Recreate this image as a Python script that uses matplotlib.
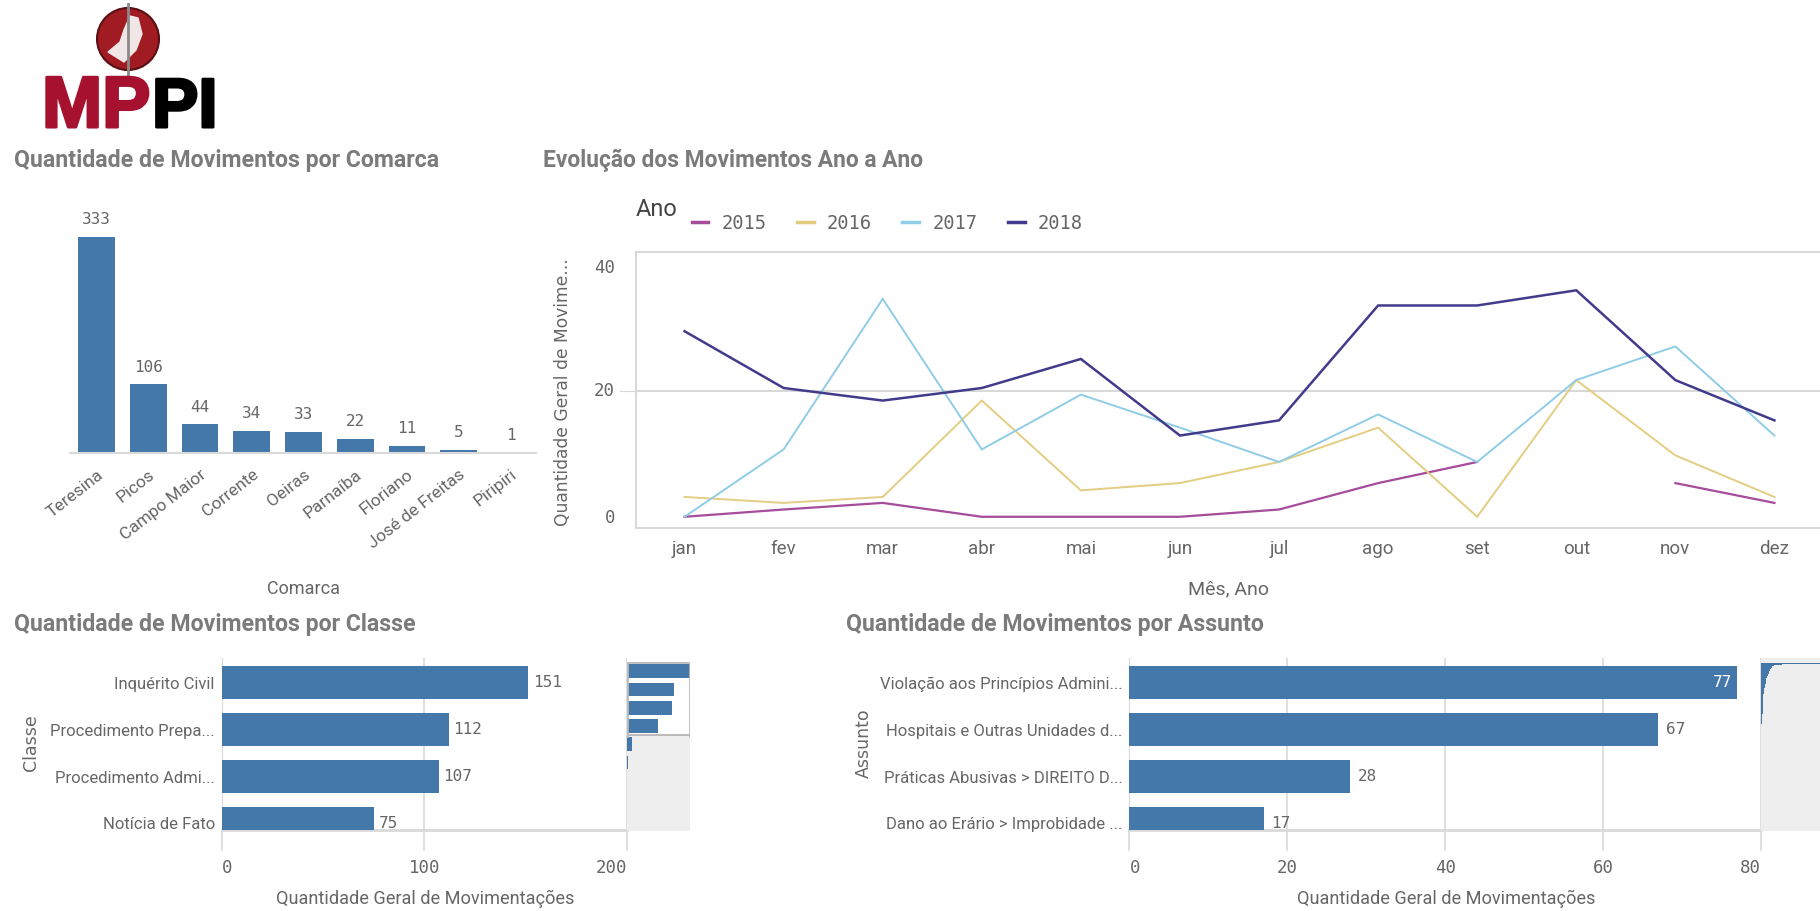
#!/usr/bin/env python
# -*- coding: utf-8 -*-

import numpy as np
import matplotlib
matplotlib.use('Agg')
import matplotlib.pyplot as plt
import matplotlib.patheffects as pe
from matplotlib.patches import Circle, Polygon

W, H = 1820, 911
BLUE = '#4477aa'
GRID = '#d9d9d9'
TXT = '#666666'
TITLE = '#7b7b7b'
MONO = 'DejaVu Sans Mono'
NARROW = 'Roboto'

# dados
comarcas = ['Teresina', 'Picos', 'Campo Maior', 'Corrente', 'Oeiras', 'Parnaíba',
            'Floriano', 'José de Freitas', 'Piripiri']
comarca_vals = [333, 106, 44, 34, 33, 22, 11, 5, 1]

meses = ['jan', 'fev', 'mar', 'abr', 'mai', 'jun', 'jul', 'ago', 'set', 'out', 'nov', 'dez']
y2015 = [1, 2.1, 3.1, 1, 1, 1, 2.1, 6.1, 9.3, np.nan, 6.1, 3.1]
y2016 = [4, 3.1, 4, 18.6, 5, 6.1, 9.3, 14.5, 1, 21.7, 10.3, 4]
y2017 = [1, 11.2, 34, 11.2, 19.5, 14.5, 9.3, 16.5, 9.3, 21.7, 26.8, 13.3]
y2018 = [29.1, 20.5, 18.6, 20.5, 24.9, 13.3, 15.6, 33, 33, 35.3, 21.7, 15.6]
cores_ano = ['#a54c9a', '#e3cd82', '#8fcde6', '#423b8c']
esp_ano = [1.6, 1.4, 1.4, 1.8]

classes = ['Inquérito Civil', 'Procedimento Prepa...', 'Procedimento Admi...', 'Notícia de Fato']
classe_vals = [151, 112, 107, 75]
classe_mini = [151, 112, 107, 75, 11, 2]

assuntos = ['Violação aos Princípios Admini...', 'Hospitais e Outras Unidades d...',
            'Práticas Abusivas > DIREITO D...', 'Dano ao Erário > Improbidade ...']
assunto_vals = [77, 67, 28, 17]
assunto_mini = [77, 67, 28, 17, 16, 15, 14, 14, 13, 13, 12, 12, 12, 11, 11, 10, 10, 10, 9, 9,
                9, 8, 8, 8, 8, 7, 7, 7, 7, 6, 6, 6, 6, 6, 6, 5, 5, 5, 5, 5,
                5, 5, 4, 4, 4, 4, 4, 4, 4, 4, 4, 3, 3, 3, 3, 3, 3, 3, 3, 3,
                3, 3, 3, 3, 3, 2, 2, 2, 2, 2, 2, 2, 2, 2, 2, 2, 2, 2, 2, 2,
                2, 2, 2, 2, 1, 1, 1, 1, 1, 1, 1, 1, 1, 1, 1, 1, 1, 1, 1, 1, 1, 1]


def px_ax(x0, ytop, x1, ybot):
    # eixo posicionado em pixels da imagem
    return fig.add_axes([x0/W, 1-ybot/H, (x1-x0)/W, (ybot-ytop)/H])


def limpa(ax):
    for s in ax.spines.values():
        s.set_visible(False)


fig = plt.figure(figsize=(W/100, H/100), dpi=100, facecolor='white')

# logo e textos soltos, em pixels
bg = fig.add_axes([0, 0, 1, 1])
bg.set_xlim(0, W)
bg.set_ylim(H, 0)
bg.axis('off')
bg.add_patch(Circle((128, 39), 31, facecolor='#a01c22', edgecolor='#5a1014', lw=1.5))
bg.add_patch(Polygon([[108, 52], [120, 42], [124, 30], [130, 16], [138, 18], [142, 34],
                      [136, 50], [124, 62]], color='#f1e6e6'))
bg.plot([128, 128], [4, 76], color='#8a8a8a', lw=2)
borda = pe.withStroke(linewidth=2.2, foreground='#a5112f')
bg.text(42, 127, 'MP', color='#a5112f', fontsize=52, fontweight='bold',
        family='Liberation Sans', va='baseline', path_effects=[borda])
borda = pe.withStroke(linewidth=2.2, foreground='black')
bg.text(152, 127, 'PI', color='black', fontsize=50, fontweight='bold',
        family='Liberation Sans', va='baseline', path_effects=[borda])

for x, y, s, fs in [(14, 160, 'Quantidade de Movimentos por Comarca', 16.7),
                    (543, 160, 'Evolução dos Movimentos Ano a Ano', 16.4),
                    (14, 624, 'Quantidade de Movimentos por Classe', 16.7),
                    (846, 624, 'Quantidade de Movimentos por Assunto', 16.7)]:
    bg.text(x, y, s, color=TITLE, fontsize=fs, fontweight='bold', family='Roboto', va='center')

bg.text(303, 589, 'Comarca', color=TXT, fontsize=13, family=NARROW, ha='center', va='center')
bg.text(1229, 589, 'Mês, Ano', color=TXT, fontsize=14, family=NARROW, ha='center', va='center')
bg.text(425, 899, 'Quantidade Geral de Movimentações', color=TXT, fontsize=13.1, family=NARROW,
        ha='center', va='center')
bg.text(1446, 899, 'Quantidade Geral de Movimentações', color=TXT, fontsize=13.1, family=NARROW,
        ha='center', va='center')
bg.text(563, 392, 'Quantidade Geral de Movime...', color=TXT, fontsize=12.3, rotation=90,
        family='DejaVu Sans', ha='center', va='center')
bg.text(31, 743, 'Classe', color=TXT, fontsize=12.5, rotation=90, family='DejaVu Sans',
        ha='center', va='center')
bg.text(864, 743, 'Assunto', color=TXT, fontsize=12.5, rotation=90, family='DejaVu Sans',
        ha='center', va='center')
bg.text(636, 210, 'Ano', color='#444444', fontsize=17, family=NARROW, va='center')

# barras por comarca
ax = px_ax(70, 215, 536, 453)
xc = np.arange(len(comarcas))
ax.bar(xc, comarca_vals, width=0.71, color=BLUE)
for i, v in enumerate(comarca_vals):
    ax.text(i, v+15, str(v), ha='center', va='bottom', color=TXT, fontsize=11.5, family=MONO)
ax.set_xlim(-0.51, 8.49)
ax.set_ylim(0, 367)
ax.set_yticks([])
ax.set_xticks(xc)
ax.set_xticklabels(comarcas, rotation=38, ha='right', rotation_mode='anchor', color=TXT,
                   fontsize=12.5, family=NARROW)
ax.tick_params(axis='x', length=0, pad=10)
limpa(ax)
ax.spines['bottom'].set_visible(True)
ax.spines['bottom'].set_color(GRID)
ax.spines['bottom'].set_linewidth(1.5)
ax.patch.set_alpha(0)

# linhas ano a ano
ax = px_ax(636, 252, 1820, 528)
xm = np.arange(12)
for vals, cor, nome, esp in zip([y2015, y2016, y2017, y2018], cores_ano,
                                ['2015', '2016', '2017', '2018'], esp_ano):
    ax.plot(xm, vals, color=cor, lw=esp, label=nome, solid_joinstyle='miter')
ax.set_xlim(-0.49, 11.46)
ax.set_ylim(-0.7, 41.1)
ax.set_yticks([0, 20, 40])
ax.set_xticks(xm)
ax.set_xticklabels(meses, color=TXT, fontsize=13.5, family=NARROW)
ax.tick_params(axis='x', length=0, pad=9)
ax.tick_params(axis='y', length=12, color=GRID, pad=3, labelcolor=TXT)
for t, va in zip(ax.get_yticklabels(), ['baseline', 'center', 'top']):
    t.set_family(MONO)
    t.set_fontsize(12.5)
    t.set_va(va)
# so a linha do 20 aparece, 0 e 40 ficam so com a borda
ax.grid(axis='y', color=GRID, lw=1.5)
ax.set_axisbelow(True)
for i in [0, 2]:
    ax.yaxis.get_gridlines()[i].set_visible(False)
    ax.yaxis.get_major_ticks()[i].tick1line.set_visible(False)
for s in ax.spines.values():
    s.set_color(GRID)
    s.set_linewidth(1.5)
ax.spines['right'].set_visible(False)
leg = ax.legend(ncol=4, loc='lower left', bbox_to_anchor=(0.035, 1.018), frameon=False,
                handlelength=0.9, handletextpad=0.7, columnspacing=1.62, borderpad=0.25,
                prop={'family': MONO, 'size': 13.5}, labelcolor=TXT)
for h in leg.get_lines():
    h.set_linewidth(2.5)


def barras_h(x0, x1, xmax, rotulos, vals, ticks, tick_ha, dentro=None):
    ax = px_ax(x0, 658, x1, 830)
    yc = np.arange(len(vals))
    ax.barh(yc, vals, height=0.71, color=BLUE, zorder=3)
    for i, v in enumerate(vals):
        if v == dentro:
            ax.text(v-xmax*0.008, i, str(v), ha='right', va='center', color='white', fontsize=11.5,
                    family=MONO, zorder=4)
        else:
            ax.text(v+xmax*0.012, i, str(v), ha='left', va='center', color=TXT, fontsize=11.5,
                    family=MONO, zorder=4)
    ax.set_xlim(0, xmax)
    ax.set_ylim(3.14, -0.53)
    ax.set_yticks(yc)
    ax.set_yticklabels(rotulos, color=TXT, fontsize=12, family=NARROW)
    ax.tick_params(axis='y', length=0, pad=5)
    ax.set_xticks(ticks)
    ax.tick_params(axis='x', length=15, color=GRID, width=1.2, pad=6, labelcolor=TXT)
    for t, ha in zip(ax.get_xticklabels(), tick_ha):
        t.set_family(MONO)
        t.set_fontsize(12.5)
        t.set_ha(ha)
    ax.grid(axis='x', color=GRID, lw=1.2, zorder=0)
    limpa(ax)
    ax.spines['bottom'].set_visible(True)
    ax.spines['bottom'].set_color(GRID)
    ax.spines['bottom'].set_linewidth(2)
    ax.spines['left'].set_visible(True)
    ax.spines['left'].set_color(GRID)
    return ax


barras_h(221.7, 627, 200, classes, classe_vals, [0, 100, 200], ['left', 'center', 'right'])
barras_h(1129.4, 1761, 80, assuntos, assunto_vals, [0, 20, 40, 60, 80],
         ['left', 'center', 'center', 'center', 'right'], dentro=77)

# minimapa da classe
m = px_ax(627, 662, 690, 831)
m.set_facecolor('#eeeeee')
m.axhspan(-0.5, 3.5, color='white', zorder=0)
m.barh(np.arange(len(classe_mini)), classe_mini, height=0.75, color=BLUE, zorder=2)
m.set_xlim(0, 151)
m.set_ylim(8.75, -0.5)
m.set_xticks([])
m.set_yticks([])
limpa(m)
m.axhline(3.5, color='#bbbbbb', lw=1.5, zorder=3)
m.axhline(-0.5, color='#bbbbbb', lw=2, zorder=3)
m.axvline(0, ymin=0.565, ymax=1, color='#bbbbbb', lw=2, zorder=3)
m.axvline(151, ymin=0.565, ymax=1, color='#bbbbbb', lw=2, zorder=3)

# minimapa do assunto
m = px_ax(1761, 658, 1820, 831)
m.set_facecolor('#eeeeee')
m.barh(np.arange(len(assunto_mini)), assunto_mini, height=0.95, color=BLUE, zorder=2)
m.set_xlim(0, 77)
m.set_ylim(279, -9.2)
m.set_xticks([])
m.set_yticks([])
limpa(m)

fig.savefig('out.png', dpi=100)
